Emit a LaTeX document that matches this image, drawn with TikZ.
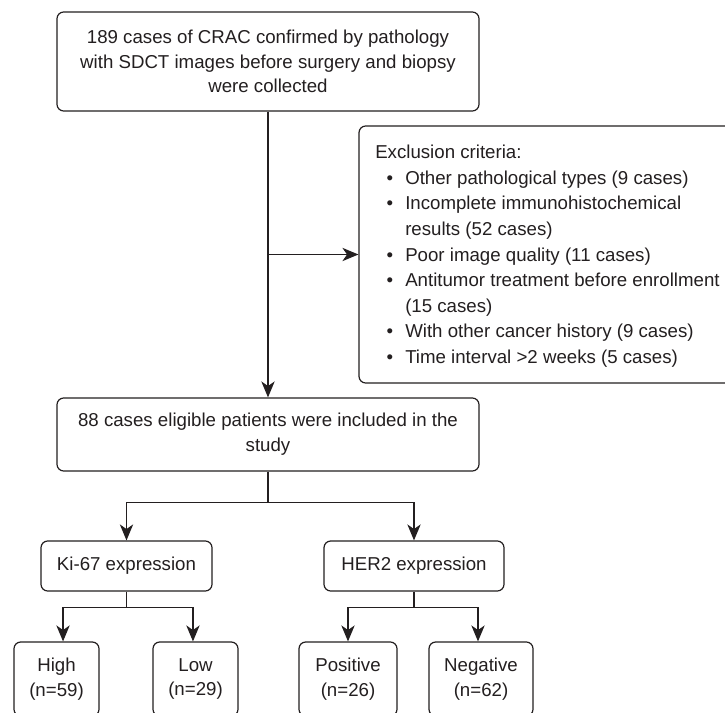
\documentclass[tikz,border=0pt]{standalone}
\usepackage{fontspec}
\setmainfont{Liberation Sans}
\usetikzlibrary{arrows.meta}
\definecolor{ink}{HTML}{231F20}
\begin{document}
\begin{tikzpicture}[x=0.75pt,y=-0.75pt,
  box/.style={draw=ink, line width=0.9pt, rounded corners=5pt, inner sep=0pt, align=center,
    font=\fontsize{14}{18.5}\selectfont, text=ink},
  arr/.style={draw=ink, line width=0.9pt, -{Stealth[length=12pt,width=10pt,inset=3.5pt]}},
  ln/.style={draw=ink, line width=0.9pt}]
\useasboundingbox (0,0) rectangle (725,713);
\clip (0,0) rectangle (725,713);
\fill[white] (0,0) rectangle (725,713);
\node[box, minimum width=316.5pt, minimum height=74.25pt] (top) at (268,61.5)
  {189 cases of CRAC confirmed by pathology\\with SDCT images before surgery and biopsy\\were collected};
\node[box, minimum width=308.25pt, minimum height=192.75pt] (excl) at (564.5,254.5) {};
\node[anchor=north west, inner sep=0pt, align=left, font=\fontsize{14}{19.2}\selectfont, text=ink] (excltext) at (375,145)
  {Exclusion criteria:\\
   \hspace*{8.5pt}\makebox[14pt][l]{•}Other pathological types (9 cases)\\
   \hspace*{8.5pt}\makebox[14pt][l]{•}Incomplete immunohistochemical\\
   \hspace*{22.5pt}results (52 cases)\\
   \hspace*{8.5pt}\makebox[14pt][l]{•}Poor image quality (11 cases)\\
   \hspace*{8.5pt}\makebox[14pt][l]{•}Antitumor treatment before enrollment\\
   \hspace*{22.5pt}(15 cases)\\
   \hspace*{8.5pt}\makebox[14pt][l]{•}With other cancer history (9 cases)\\
   \hspace*{8.5pt}\makebox[14pt][l]{•}Time interval >2 weeks (5 cases)};
\node[box, minimum width=316.5pt, minimum height=54.75pt] (mid) at (268,434.5)
  {88 cases eligible patients were included in the\\study};
\node[box, minimum width=128.25pt, minimum height=37.5pt] (ki) at (126.5,566) {Ki-67 expression};
\node[box, minimum width=135pt, minimum height=37.5pt] (her) at (414,566) {HER2 expression};
\node[box, minimum width=63.75pt, minimum height=55.5pt] (high) at (56.5,679) {High\\(n=59)};
\node[box, minimum width=63.75pt, minimum height=55.5pt] (low) at (195.5,679) {Low\\(n=29)};
\node[box, minimum width=73.5pt, minimum height=55.5pt] (pos) at (348,679) {Positive\\(n=26)};
\node[box, minimum width=78pt, minimum height=55.5pt] (neg) at (481,679) {Negative\\(n=62)};
\draw[arr] (top.south) -- (mid.north);
\draw[arr] (top.south |- excl.west) -- (excl.west);
\draw[ln] (mid.south) -- ++(0,31) coordinate (j1);
\draw[arr] (j1) -| (ki.north);
\draw[arr] (j1) -| (her.north);
\draw[ln] (ki.south) -- ++(0,16) coordinate (j2);
\draw[arr] (j2) -| ([xshift=4.9pt]high.north);
\draw[arr] (j2) -| ([xshift=-1.9pt]low.north);
\draw[ln] (her.south) -- ++(0,16) coordinate (j3);
\draw[arr] (j3) -| (pos.north);
\draw[arr] (j3) -| ([xshift=-2.25pt]neg.north);
\end{tikzpicture}
\end{document}
